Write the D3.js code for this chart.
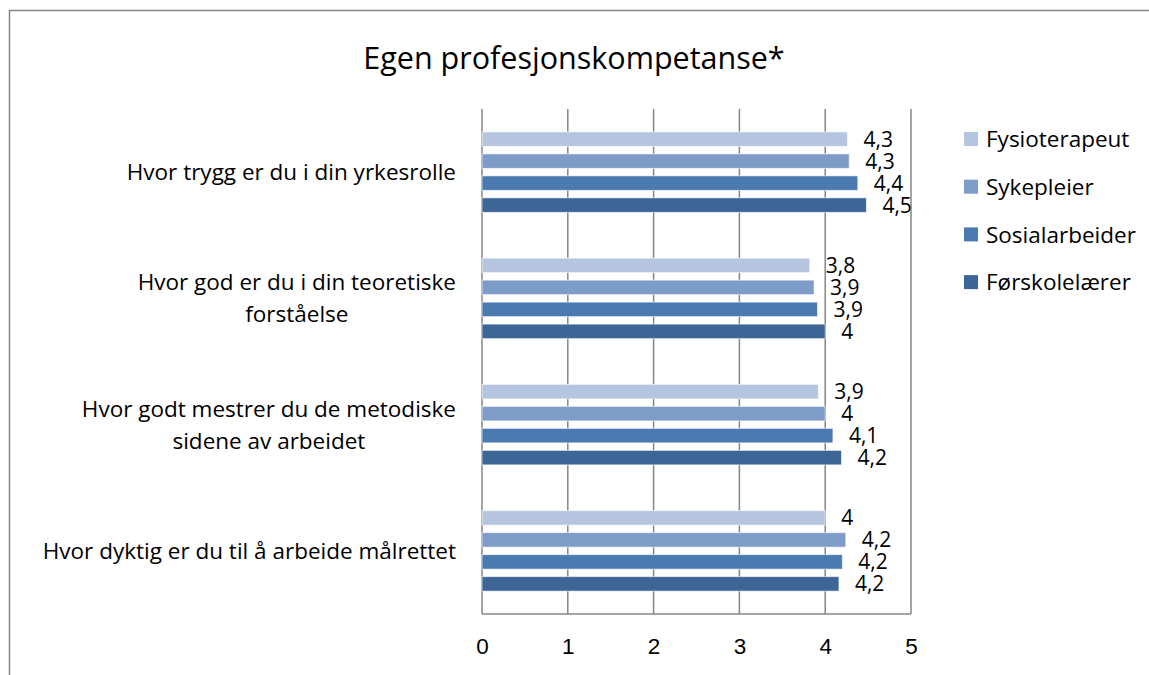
<!DOCTYPE html>
<html>
<head>
<meta charset="utf-8">
<script src="https://cdn.jsdelivr.net/npm/d3@7"></script>
<style>
  html, body { margin: 0; padding: 0; background: #fff; }
  svg { display: block; font-family: "Open Sans", sans-serif; }
</style>
</head>
<body>
<svg id="chart" width="1149" height="675"></svg>
<script>
// Survey items (top to bottom)
const categories = [
  ["Hvor trygg er du i din yrkesrolle"],
  ["Hvor god er du i din teoretiske", "forståelse"],
  ["Hvor godt mestrer du de metodiske", "sidene av arbeidet"],
  ["Hvor dyktig er du til å arbeide målrettet"]
];
const series = ["Fysioterapeut", "Sykepleier", "Sosialarbeider", "Førskolelærer"];
const colors = ["#b5c4df", "#7e9cc8", "#4a7ab0", "#3d6596"];

// Mean scores per profession, one value per item
const fysioterapeut = [4.26, 3.82, 3.92, 4.0];
const sykepleier    = [4.28, 3.87, 4.0, 4.24];
const sosialarbeider = [4.38, 3.91, 4.09, 4.2];
const forskolelaerer = [4.48, 4.0, 4.19, 4.16];
const values = [fysioterapeut, sykepleier, sosialarbeider, forskolelaerer];

const xTicks = [0, 1, 2, 3, 4, 5];
const title = "Egen profesjonskompetanse*";

const svg = d3.select("#chart");
const plot = { left: 482, right: 911, top: 109, bottom: 614 };
const fs = 22.5;      // category, legend and tick text
const fsValue = 21;   // data labels

// Chart-area frame
svg.append("rect")
  .attr("x", 9.5).attr("y", 10.5)
  .attr("width", 1200).attr("height", 700)
  .attr("fill", "none").attr("stroke", "#868686").attr("stroke-width", 1.5);

svg.append("text")
  .attr("x", 574).attr("y", 69)
  .attr("text-anchor", "middle")
  .attr("font-size", 30.5)
  .attr("fill", "#000")
  .text(title);

const x = d3.scaleLinear().domain([0, 5]).range([plot.left, plot.right]);
const y0 = d3.scaleBand().domain(d3.range(categories.length)).range([plot.top, plot.bottom]);
const y1 = d3.scaleBand().domain(series).range([0, y0.bandwidth()])
  .paddingInner(0.34).paddingOuter(1.04);

// Vertical gridlines
svg.append("g").selectAll("line")
  .data(xTicks)
  .join("line")
  .attr("x1", d => x(d)).attr("x2", d => x(d))
  .attr("y1", plot.top).attr("y2", plot.bottom)
  .attr("stroke", "#868686").attr("stroke-width", 1.5);

// Bottom axis line and tick labels
svg.append("line")
  .attr("x1", plot.left).attr("x2", plot.right)
  .attr("y1", plot.bottom).attr("y2", plot.bottom)
  .attr("stroke", "#868686").attr("stroke-width", 1.5);

const xAxis = svg.append("g")
  .attr("transform", `translate(0,${plot.bottom})`)
  .call(d3.axisBottom(x).tickValues(xTicks).tickSize(0).tickPadding(24).tickFormat(d3.format("d")));
xAxis.select(".domain").remove();
xAxis.selectAll("text").attr("font-size", fs).attr("fill", "#000")
  .attr("font-family", null);

// Bars
const fmt = v => String(Math.round(v * 10) / 10).replace(".", ",");
const groups = svg.append("g").selectAll("g")
  .data(categories.map((c, i) => i))
  .join("g")
  .attr("transform", i => `translate(0,${y0(i)})`);

groups.selectAll("rect")
  .data(i => series.map((s, k) => ({ s, k, v: values[k][i] })))
  .join("rect")
  .attr("x", x(0))
  .attr("y", d => y1(d.s))
  .attr("width", d => x(d.v) - x(0))
  .attr("height", y1.bandwidth())
  .attr("fill", d => colors[d.k])
  .attr("stroke", "#ffffff").attr("stroke-opacity", 0.6).attr("stroke-width", 1);

groups.selectAll("text")
  .data(i => series.map((s, k) => ({ s, k, v: values[k][i] })))
  .join("text")
  .attr("x", d => x(d.v) + 16)
  .attr("y", d => y1(d.s) + y1.bandwidth() / 2)
  .attr("dy", "0.36em")
  .attr("font-size", fsValue)
  .attr("fill", "#000")
  .text(d => fmt(d.v));

// Category labels: block right-aligned to the axis, lines centred within it
const labelRight = 456;
const lineH = 32;
categories.forEach((lines, i) => {
  const g = svg.append("g");
  const cy = y0(i) + y0.bandwidth() / 2;
  const texts = lines.map((ln, j) => g.append("text")
    .attr("y", cy + (j - (lines.length - 1) / 2) * lineH)
    .attr("dy", "0.36em")
    .attr("font-size", fs)
    .attr("fill", "#000")
    .attr("text-anchor", "middle")
    .text(ln));
  const maxW = d3.max(texts, t => t.node().getComputedTextLength());
  texts.forEach(t => t.attr("x", labelRight - maxW / 2));
});

// Legend
const legend = svg.append("g").selectAll("g")
  .data(series)
  .join("g")
  .attr("transform", (d, k) => `translate(964,${139 + k * 47.7})`);
legend.append("rect")
  .attr("x", 0).attr("y", -7).attr("width", 14).attr("height", 14)
  .attr("fill", (d, k) => colors[k]);
legend.append("text")
  .attr("x", 22).attr("dy", "0.36em")
  .attr("font-size", fs).attr("fill", "#000")
  .text(d => d);
</script>
</body>
</html>
